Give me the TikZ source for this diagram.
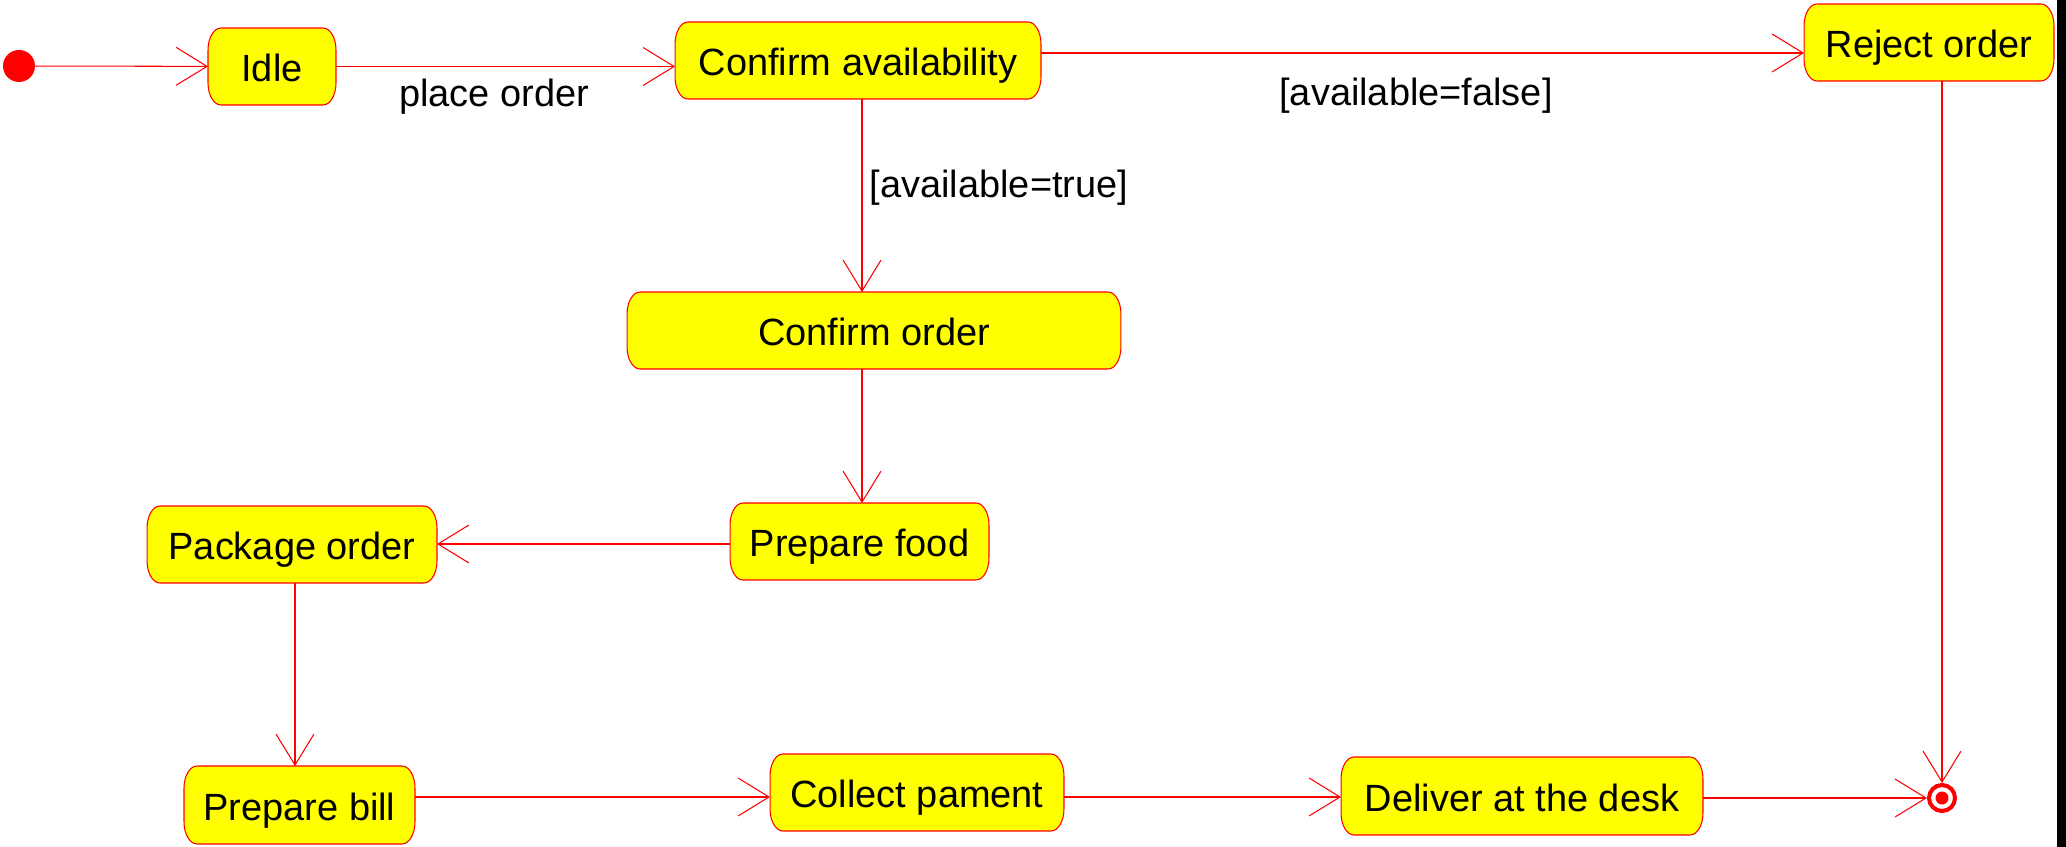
\documentclass[tikz,border=0pt]{standalone}
\usepackage{fontspec}
\setmainfont{Liberation Sans}
\usetikzlibrary{arrows.meta,calc,backgrounds}
\definecolor{ured}{RGB}{255,0,0}
\definecolor{uyel}{RGB}{255,255,0}
\newcommand\stateoutline[1]{%
  \draw[outl] ($(#1.north west)+(0.26cm,0)$) -- ($(#1.north east)+(-0.26cm,0)$)
    arc[start angle=90,end angle=0,x radius=0.26cm,y radius=0.44cm]
    -- ($(#1.south east)+(0,0.44cm)$)
    arc[start angle=0,end angle=-90,x radius=0.26cm,y radius=0.44cm]
    -- ($(#1.south west)+(0.26cm,0)$)
    arc[start angle=270,end angle=180,x radius=0.26cm,y radius=0.44cm]
    -- ($(#1.north west)+(0,-0.44cm)$)
    arc[start angle=180,end angle=90,x radius=0.26cm,y radius=0.44cm] -- cycle;}
\begin{document}
\begin{tikzpicture}[x=0.02cm,y=0.02cm,
  st/.style={inner sep=0pt, outer sep=0pt, minimum height=1.54cm, text height=17.5pt, text depth=0pt, font=\fontsize{21.6}{26}\selectfont, text=black},
  lbl/.style={inner sep=0pt, font=\fontsize{21.6}{26}\selectfont, text=black},
  outl/.style={draw=ured, fill=uyel, line width=0.6pt},
  arr/.style={draw=ured, line width=0.6pt, -{Straight Barb[length=17.6pt,width=21.6pt]}}]
\useasboundingbox (0,0) rectangle (2066,-847);
\fill[black] (2057,0) rectangle (2066,-847);

\node[circle, fill=ured, inner sep=0pt, minimum size=0.64cm] (ini) at (19,-66) {};
\node[st, minimum width=2.56cm] (idle) at (272,-66.5) {Idle};
\node[st, minimum width=7.32cm] (ca) at (858,-60.5) {Confirm availability};
\node[st, minimum width=5.0cm] (ro) at (1929,-42.5) {Reject order};
\node[st, minimum width=9.88cm] (co) at (874,-330.5) {Confirm order};
\node[st, minimum width=5.18cm] (pf) at (859.5,-541.5) {Prepare food};
\node[st, minimum width=5.8cm] (po) at (292,-544.5) {Package order};
\node[st, minimum width=4.62cm, minimum height=1.56cm] (pb) at (299.5,-805) {Prepare bill};
\node[st, minimum width=5.88cm] (cp) at (917,-792.5) {Collect pament};
\node[st, minimum width=7.24cm, minimum height=1.56cm] (dd) at (1522,-796) {Deliver at the desk};
\node[circle, draw=ured, line width=2.3pt, inner sep=0pt, minimum size=0.52cm] (fin) at (1942,-798) {};
\fill[ured] (fin.center) circle (6.5);

\begin{pgfonlayer}{background}
\stateoutline{idle}
\stateoutline{ca}
\stateoutline{ro}
\stateoutline{co}
\stateoutline{pf}
\stateoutline{po}
\stateoutline{pb}
\stateoutline{cp}
\stateoutline{dd}
\end{pgfonlayer}

\coordinate (h1) at (0,-53);
\coordinate (h2) at (0,-544);
\coordinate (h3) at (0,-797);
\coordinate (v1) at (862,0);
\coordinate (v2) at (295,0);

\draw[arr] (ini) -- (idle);
\draw[arr] (idle.east) -- (ca.west |- idle.east);
\draw[arr] (ca.east |- h1) -- (ro.west |- h1);
\draw[arr] (ca.south -| v1) -- (co.north -| v1);
\draw[arr] (co.south -| v1) -- (pf.north -| v1);
\draw[arr] (pf.west |- h2) -- (po.east |- h2);
\draw[arr] (po.south -| v2) -- (pb.north -| v2);
\draw[arr] (pb.east |- h3) -- (cp.west |- h3);
\draw[arr] (cp.east |- h3) -- (dd.west |- h3);
\draw[arr] (dd.east |- fin) -- (fin);
\draw[arr] (ro.south -| fin) -- (fin);

\node[lbl] (l1) at (494,-97) {place order};
\node[lbl] (l2) at (1416,-96) {[available=false]};
\node[lbl] (l3) at (999,-188) {[available=true]};
\end{tikzpicture}
\end{document}
